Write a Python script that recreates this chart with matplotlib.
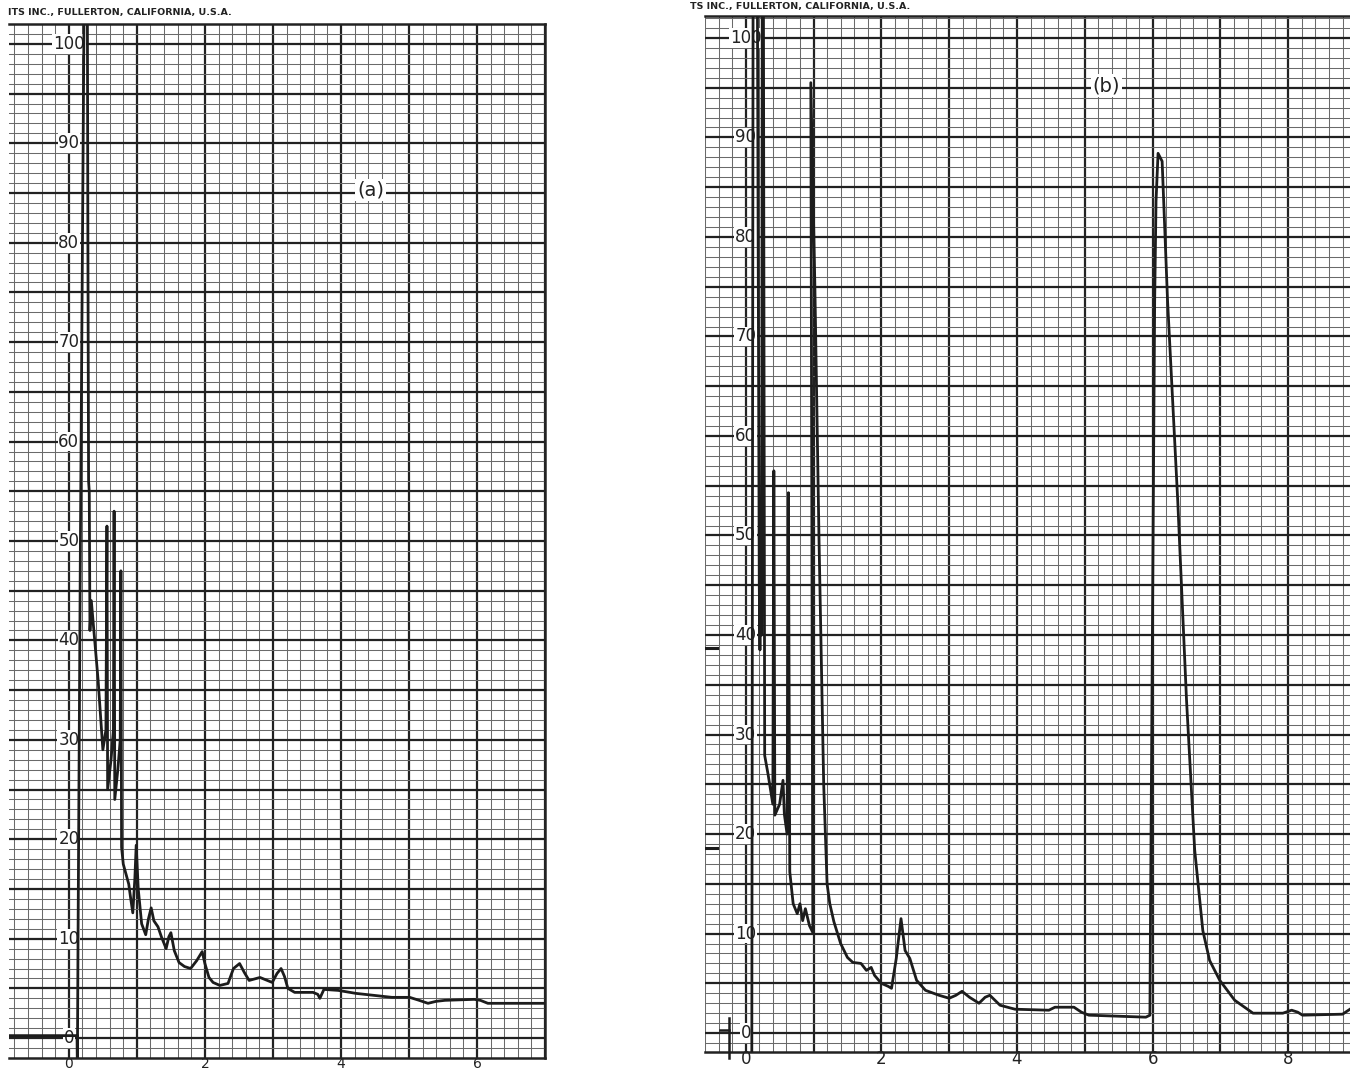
import numpy as np
import matplotlib.pyplot as plt
from matplotlib.ticker import MultipleLocator

# chart (a): recorder trace, time (min) vs response (%)
a_time = [-0.88, 0.10, 0.12, 0.125, 0.135, 0.17, 0.20, 0.23, 0.27, 0.28, 0.29, 0.30, 0.31,
          0.33, 0.38, 0.43, 0.48, 0.50, 0.545, 0.56, 0.57, 0.62, 0.655, 0.665, 0.675,
          0.72, 0.755, 0.765, 0.775, 0.80, 0.84, 0.88, 0.91, 0.94, 0.97, 0.99, 1.02,
          1.07, 1.13, 1.17, 1.21, 1.25, 1.31, 1.36, 1.43, 1.47, 1.50, 1.55, 1.62,
          1.70, 1.79, 1.88, 1.96, 2.00, 2.06, 2.12, 2.22, 2.34, 2.42, 2.51, 2.58,
          2.65, 2.81, 2.99, 3.06, 3.12, 3.17, 3.22, 3.32, 3.59, 3.66, 3.69, 3.75,
          3.96, 4.22, 4.75, 5.01, 5.15, 5.28, 5.40, 5.53, 5.96, 6.05, 6.16, 7.0]
a_signal = [0.25, 0.25, 0.25, -3, 10, 50, 80, 110, 110, 80, 56, 55, 41,
            44, 40, 36, 31, 29, 31, 51.5, 25, 28, 31, 53, 24,
            27, 30, 47, 19.2, 17.5, 16.5, 15.5, 14, 12.6, 16, 19.4, 15,
            11.5, 10.4, 12, 13.1, 11.8, 11.2, 10.2, 9.0, 10.2, 10.6, 8.8, 7.6,
            7.2, 7.0, 7.8, 8.7, 7.5, 6.1, 5.6, 5.3, 5.5, 7.0, 7.5, 6.6,
            5.8, 6.1, 5.6, 6.5, 7.0, 6.2, 5.0, 4.6, 4.6, 4.4, 4.0, 4.9,
            4.8, 4.5, 4.1, 4.1, 3.8, 3.5, 3.7, 3.8, 3.9, 3.8, 3.5, 3.5]

# chart (b)
b_time = [0.09, 0.11, 0.17, 0.20, 0.21, 0.22, 0.235, 0.245, 0.26, 0.28, 0.33, 0.40,
          0.415, 0.43, 0.50, 0.55, 0.57, 0.61, 0.63, 0.65, 0.70, 0.76, 0.80, 0.84,
          0.88, 0.94, 0.99, 0.96, 1.02, 1.08, 1.15, 1.20, 1.24, 1.30, 1.40, 1.50, 1.58, 1.70,
          1.78, 1.85, 1.90, 2.00, 2.10, 2.15, 2.22, 2.29, 2.35, 2.42, 2.52, 2.65,
          2.85, 3.00, 3.10, 3.19, 3.30, 3.44, 3.53, 3.60, 3.75, 3.97, 4.47, 4.56,
          4.84, 4.95, 5.06, 5.90, 5.96, 5.97, 6.00, 6.03, 6.05, 6.08, 6.14,
          6.22, 6.37, 6.50, 6.62, 6.74, 6.84, 6.99, 7.21, 7.48, 7.92,
          8.05, 8.14, 8.21, 8.80, 8.91]
b_signal = [-3, 110, 110, 45, 38.5, 49, 40, 110, 110, 27.9, 26, 23,
            56.5, 21.9, 23, 25.4, 22, 20, 54.3, 16.2, 13, 12, 13, 11.3,
            12.5, 10.8, 10.1, 95.5, 75, 50, 25, 15, 13, 11.2, 9.0, 7.6, 7.1, 7.0,
            6.3, 6.6, 5.8, 5.0, 4.7, 4.5, 7.5, 11.5, 8.3, 7.5, 5.3, 4.3,
            3.8, 3.5, 3.8, 4.2, 3.6, 3.0, 3.6, 3.8, 2.8, 2.4, 2.3, 2.6,
            2.6, 2.1, 1.8, 1.6, 1.8, 13.4, 43.5, 73.6, 83.6, 88.4, 87.6,
            73.6, 53.5, 33.4, 18.4, 10.3, 7.3, 5.3, 3.3, 2.0, 2.0,
            2.3, 2.1, 1.8, 1.9, 2.4]

y_labels = [0, 10, 20, 30, 40, 50, 60, 70, 80, 90, 100]
a_xlabels = [0, 2, 4, 6]
b_xlabels = [0, 2, 4, 6, 8]
b_side_marks = [38.7, 18.6]
header_a = "ITS INC., FULLERTON, CALIFORNIA, U.S.A."
header_b = "TS INC., FULLERTON, CALIFORNIA, U.S.A."

W, H = 1350, 1070
fig = plt.figure(figsize=(W / 100, H / 100), dpi=100)
fig.patch.set_facecolor('white')
ink = '#1c1c1c'


def make_panel(px_left, px_right, px_top, px_bottom, xlim, ylim):
    ax = fig.add_axes([px_left / W, 1 - px_bottom / H,
                       (px_right - px_left) / W, (px_bottom - px_top) / H])
    ax.set_xlim(*xlim)
    ax.set_ylim(*ylim)
    ax.xaxis.set_major_locator(MultipleLocator(1))
    ax.xaxis.set_minor_locator(MultipleLocator(0.2))
    ax.yaxis.set_major_locator(MultipleLocator(5))
    ax.yaxis.set_minor_locator(MultipleLocator(1))
    ax.grid(which='major', color='#222222', lw=1.6, zorder=1)
    ax.grid(which='minor', color='#6a6a6a', lw=0.75, zorder=0)
    ax.set_axisbelow(True)
    ax.tick_params(which='both', length=0, labelbottom=False, labelleft=False)
    ax.spines['left'].set_visible(False)
    for s in ['top', 'bottom', 'right']:
        ax.spines[s].set_linewidth(1.8)
        ax.spines[s].set_color('#222222')
    return ax


def y_numbers(ax, xpos):
    for v in y_labels:
        ax.text(xpos, v, str(v), ha='center', va='center', fontsize=12,
                color='#222222', zorder=3,
                bbox=dict(boxstyle='square,pad=0.05', fc='white', ec='none'))


# panel (a)
ax_a = make_panel(9, 545, 24, 1058, (-0.88, 7.0), (-2.0, 102.0))
y_numbers(ax_a, 0.0)
ax_a.plot(a_time, a_signal, color=ink, lw=2.0, zorder=4,
          solid_joinstyle='round')
for x in a_xlabels:
    ax_a.text(x, -3.05, str(x), ha='center', va='baseline', fontsize=10,
              color='#222222', clip_on=False)
ax_a.text(4.44, 85.3, '(a)', ha='center', va='center', fontsize=14,
          color='#222222', zorder=3,
          bbox=dict(boxstyle='square,pad=0.1', fc='white', ec='none'))

# panel (b)
ax_b = make_panel(705, 1350, 16, 1052, (-0.6, 8.91), (-1.9, 102.2))
ax_b.spines['right'].set_visible(False)
y_numbers(ax_b, 0.0)
ax_b.plot(b_time, b_signal, color=ink, lw=2.0, zorder=4,
          solid_joinstyle='round')
# pen start marker and side ticks
ax_b.plot([-0.38, -0.24], [0.3, 0.3], color=ink, lw=1.8, zorder=4)
ax_b.plot([-0.24, -0.24], [1.5, -2.5], color=ink, lw=1.8, zorder=4,
          clip_on=False)
for v in b_side_marks:
    ax_b.plot([-0.6, -0.42], [v, v], color=ink, lw=2.2, zorder=4)
for x in b_xlabels:
    ax_b.text(x, -2.6, str(x), ha='center', va='center', fontsize=12,
              color='#222222', clip_on=False)
ax_b.text(5.32, 95.2, '(b)', ha='center', va='center', fontsize=14,
          color='#222222', zorder=3,
          bbox=dict(boxstyle='square,pad=0.1', fc='white', ec='none'))

fig.text(8 / W, 1 - 13 / H, header_a, fontsize=6.8, fontweight='bold',
         color='#222222', va='center', ha='left')
fig.text(690 / W, 1 - 7 / H, header_b, fontsize=6.8, fontweight='bold',
         color='#222222', va='center', ha='left')

fig.savefig('out.png', dpi=100, facecolor='white')
